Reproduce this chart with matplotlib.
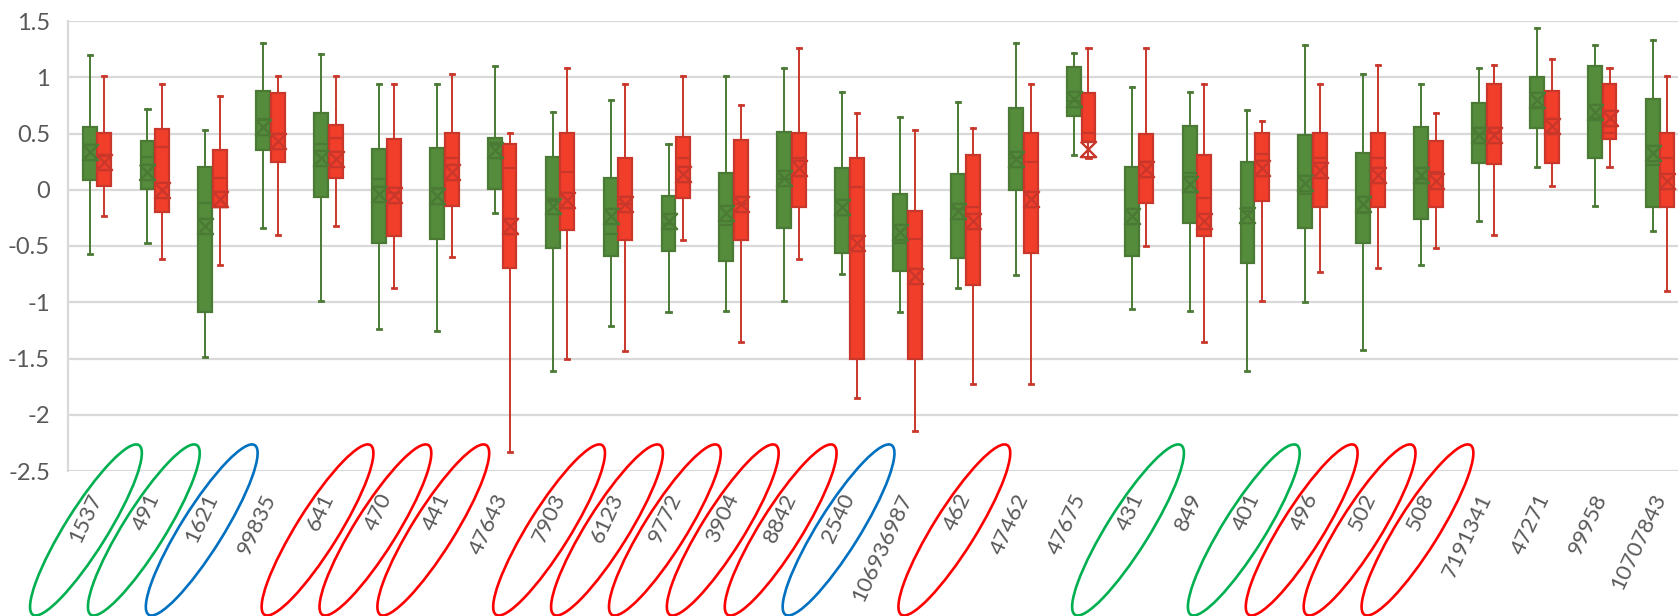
import numpy as np
import matplotlib
matplotlib.use("Agg")
import matplotlib.pyplot as plt
import matplotlib.transforms as mtransforms
from matplotlib.patches import Ellipse
from matplotlib.path import Path

# %%
# data
labels = ["1537", "491", "1621", "99835", "641", "470", "441", "47643", "7903",
          "6123", "9772", "3904", "8842", "2540", "106936987", "462", "47462",
          "47675", "431", "849", "401", "496", "502", "508", "7191341", "47271",
          "99958", "10707843"]

# green series
g_whishi = [1.195, 0.719, 0.530, 1.302, 1.207, 0.938, 0.938, 1.104, 0.692, 0.799,
            0.411, 1.012, 1.086, 0.870, 0.648, 0.784, 1.308, 1.213, 0.917, 0.873,
            0.710, 1.284, 1.033, 0.938, 1.086, 1.438, 1.287, 1.334]
g_q3 = [0.562, 0.429, 0.198, 0.876, 0.683, 0.361, 0.367, 0.456, 0.287, 0.104,
        -0.056, 0.148, 0.509, 0.192, -0.038, 0.136, 0.731, 1.089, 0.198, 0.571,
        0.243, 0.488, 0.328, 0.556, 0.772, 1.006, 1.098, 0.805]
g_q1 = [0.083, 0.006, -1.083, 0.355, -0.068, -0.473, -0.441, 0.009, -0.518, -0.586,
        -0.544, -0.630, -0.337, -0.562, -0.725, -0.607, 0.0, 0.660, -0.586, -0.296,
        -0.654, -0.337, -0.470, -0.257, 0.240, 0.550, 0.278, -0.151]
g_whislo = [-0.571, -0.473, -1.491, -0.343, -0.988, -1.237, -1.254, -0.204, -1.615,
            -1.207, -1.089, -1.080, -0.988, -0.751, -1.089, -0.873, -0.757, 0.305,
            -1.059, -1.080, -1.615, -0.994, -1.426, -0.669, -0.275, 0.198, -0.145,
            -0.364]
g_mean = [0.337, 0.154, -0.325, 0.562, 0.278, -0.036, -0.056, 0.349, -0.142, -0.237,
          -0.278, -0.207, 0.101, -0.154, -0.379, -0.186, 0.272, 0.805, -0.237, 0.047,
          -0.222, 0.059, -0.127, 0.130, 0.491, 0.802, 0.695, 0.325]
g_med = [0.40, 0.287, -0.121, 0.627, 0.408, 0.092, 0.018, 0.40, -0.098, -0.396,
         -0.305, -0.317, 0.10, -0.222, -0.470, -0.17, 0.28, 0.79, -0.302, 0.145,
         -0.19, -0.041, -0.210, 0.095, 0.50, 0.740, 0.639, 0.222]

# red series
r_whishi = [1.012, 0.941, 0.831, 1.012, 1.012, 0.938, 1.033, 0.503, 1.086, 0.938,
            1.012, 0.754, 1.263, 0.678, 0.533, 0.550, 0.938, 1.263, 1.263, 0.938,
            0.607, 0.938, 1.109, 0.678, 1.109, 1.160, 1.086, 1.012]
r_q3 = [0.506, 0.544, 0.349, 0.864, 0.580, 0.447, 0.506, 0.405, 0.506, 0.284,
        0.467, 0.438, 0.503, 0.281, -0.189, 0.305, 0.503, 0.861, 0.494, 0.305,
        0.503, 0.503, 0.503, 0.429, 0.938, 0.879, 0.938, 0.503]
r_q1 = [0.033, -0.195, -0.151, 0.251, 0.104, -0.411, -0.145, -0.698, -0.361, -0.447,
        -0.071, -0.447, -0.154, -1.503, -1.506, -0.843, -0.559, 0.426, -0.118, -0.408,
        -0.098, -0.157, -0.157, -0.154, 0.228, 0.234, 0.450, -0.151]
r_whislo = [-0.231, -0.618, -0.672, -0.402, -0.325, -0.876, -0.595, -2.331, -1.506,
            -1.429, -0.444, -1.352, -0.618, -1.852, -2.148, -1.728, -1.728, 0.281,
            -0.500, -1.352, -0.985, -0.731, -0.695, -0.521, -0.402, 0.030, 0.204,
            -0.902]
r_mean = [0.251, -0.006, -0.083, 0.432, 0.272, -0.047, 0.154, -0.325, -0.092, -0.130,
          0.139, -0.124, 0.189, -0.473, -0.763, -0.281, -0.083, 0.361, 0.183, -0.275,
          0.195, 0.175, 0.127, 0.077, 0.488, 0.568, 0.639, 0.074]
r_med = [0.30, 0.379, 0.101, 0.50, 0.464, -0.03, 0.281, 0.192, 0.157, -0.13,
         0.281, -0.13, 0.278, 0.021, -0.441, -0.151, 0.251, 0.503, 0.251, -0.074,
         0.322, 0.278, 0.278, 0.154, 0.503, 0.503, 0.503, 0.281]

# labels circled on the chart: index -> colour
circled = {0: "#00B050", 1: "#00B050", 2: "#0070C0", 4: "#FF0000", 5: "#FF0000",
           6: "#FF0000", 8: "#FF0000", 9: "#FF0000", 10: "#FF0000", 11: "#FF0000",
           12: "#FF0000", 13: "#0070C0", 15: "#FF0000", 18: "#00B050", 20: "#00B050",
           21: "#FF0000", 22: "#FF0000", 23: "#FF0000"}

yticks = [-2.5, -2, -1.5, -1, -0.5, 0, 0.5, 1, 1.5]
ytick_labels = ["-2.5", "-2", "-1.5", "-1", "-0.5", "0", "0.5", "1", "1.5"]

# %%
plt.rcParams["font.family"] = ["Lato", "DejaVu Sans"]
TXT = "#595959"
GRID = "#D9D9D9"

# X marker with bars top and bottom (like the excel mean marker)
mean_marker = Path([(-1, 1), (1, 1), (-1, -1), (1, -1), (-1, 1)],
                   [Path.MOVETO, Path.LINETO, Path.LINETO, Path.LINETO, Path.LINETO])


def make_stats(whislo, q1, med, q3, whishi, mean):
    """build the stats dicts that ax.bxp wants"""
    stats = []
    for i in range(len(q1)):
        stats.append({"whislo": whislo[i], "q1": q1[i], "med": med[i], "q3": q3[i],
                      "whishi": whishi[i], "mean": mean[i], "fliers": []})
    return stats


def draw_boxes(ax, stats, positions, face, edge):
    ax.bxp(stats, positions=positions, widths=0.24, patch_artist=True,
           showmeans=True, showfliers=False, capwidths=0.07,
           boxprops=dict(facecolor=face, edgecolor=edge, linewidth=1.6),
           whiskerprops=dict(color=edge, linewidth=1.4),
           capprops=dict(color=edge, linewidth=2),
           medianprops=dict(color=edge, linewidth=1.6),
           meanprops=dict(marker=mean_marker, markersize=11, markerfacecolor="none",
                          markeredgecolor=edge, markeredgewidth=1.7))


fig = plt.figure(figsize=(16.78, 6.16), dpi=100)
ax = fig.add_axes([68 / 1678, 145 / 616, 1621 / 1678, 450 / 616])

x = np.arange(len(labels))
draw_boxes(ax, make_stats(g_whislo, g_q1, g_med, g_q3, g_whishi, g_mean),
           x - 0.127, "#548C3C", "#4A7A34")
draw_boxes(ax, make_stats(r_whislo, r_q1, r_med, r_q3, r_whishi, r_mean),
           x + 0.127, "#F03E2A", "#C9372A")

ax.set_xlim(-0.5, len(labels) - 0.5)
ax.set_ylim(-2.5, 1.5)
ax.set_yticks(yticks)
ax.set_yticklabels(ytick_labels)
ax.set_xticks(x)
ax.set_xticklabels(labels, rotation=65, ha="right", va="center", rotation_mode="anchor")
ax.tick_params(axis="y", length=0, pad=13, labelsize=17, labelcolor=TXT)
ax.tick_params(axis="x", length=0, pad=17, labelsize=16, labelcolor=TXT)
ax.yaxis.grid(True, color=GRID, linewidth=1.6)
ax.set_axisbelow(True)
for s in ["top", "right", "bottom"]:
    ax.spines[s].set_visible(False)
ax.spines["left"].set_color(GRID)
ax.spines["left"].set_linewidth(1.6)

# hand drawn ellipses round some of the labels
blend = mtransforms.blended_transform_factory(ax.transData, ax.transAxes)
for i, col in circled.items():
    trans = fig.dpi_scale_trans + mtransforms.ScaledTranslation(i, -0.131, blend)
    ax.add_patch(Ellipse((-0.11, 0), 2.0, 0.42, angle=58, transform=trans,
                         fill=False, edgecolor=col, linewidth=1.9, clip_on=False))

fig.savefig("out.png", dpi=100)
